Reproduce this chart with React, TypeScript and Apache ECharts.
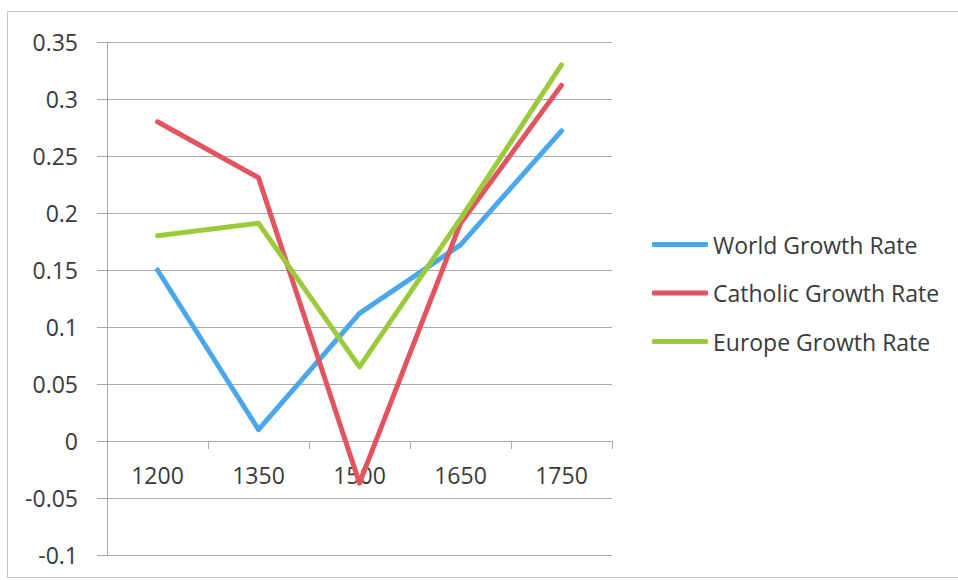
import React, { useEffect, useRef } from "react";
import * as echarts from "echarts";

const categories = ["1200", "1350", "1500", "1650", "1750"];
const worldGrowth = [0.15, 0.01, 0.112, 0.172, 0.272];
const catholicGrowth = [0.28, 0.231, -0.037, 0.191, 0.312];
const europeGrowth = [0.18, 0.191, 0.065, 0.195, 0.33];
const seriesNames = ["World Growth Rate", "Catholic Growth Rate", "Europe Growth Rate"];
const colors = ["#4BA7EC", "#E0555F", "#9BCB3D"];

const FONT = "'Open Sans', 'Liberation Sans', sans-serif";
const TEXT = "#3a3a3a";
const GRID = "#a9a9a9";

const Y_MIN = -0.1;
const Y_MAX = 0.35;
const GRID_TOP = 42;
const GRID_BOTTOM = 25;
const HEIGHT = 580;

export default function App() {
  const ref = useRef<HTMLDivElement>(null);
  useEffect(() => {
    if (!ref.current) return;
    const chart = echarts.init(ref.current, undefined, { renderer: "svg" });
    const data = [worldGrowth, catholicGrowth, europeGrowth];
    const plotH = HEIGHT - GRID_TOP - GRID_BOTTOM;
    const zeroY = GRID_TOP + (Y_MAX / (Y_MAX - Y_MIN)) * plotH;
    const xOffset = zeroY - (HEIGHT - GRID_BOTTOM);
    chart.setOption({
      animation: false,
      backgroundColor: "#ffffff",
      textStyle: { fontFamily: FONT },
      graphic: [
        {
          type: "rect",
          shape: { x: 7.5, y: 11.5, width: 960, height: 566 },
          style: { fill: "none", stroke: "#c4c4c4", lineWidth: 1 },
          silent: true,
        },
      ],
      grid: {
        left: 107,
        right: 346,
        top: GRID_TOP,
        bottom: GRID_BOTTOM,
        containLabel: false,
        outerBoundsMode: "none",
      },
      legend: {
        orient: "vertical",
        left: 652,
        top: 233,
        padding: 0,
        itemWidth: 56,
        itemHeight: 5,
        itemGap: 25.5,
        icon: "roundRect",
        textStyle: { fontSize: 23, color: TEXT, fontFamily: FONT, lineHeight: 23 },
        data: seriesNames,
      },
      xAxis: {
        type: "category",
        data: categories,
        boundaryGap: true,
        position: "bottom",
        offset: xOffset,
        axisLine: { onZero: false, lineStyle: { color: GRID, width: 1 } },
        axisTick: { show: true, length: 8, lineStyle: { color: GRID } },
        axisLabel: { fontSize: 23, color: TEXT, margin: 22, fontFamily: FONT },
        splitLine: { show: false },
      },
      yAxis: {
        type: "value",
        min: Y_MIN,
        max: Y_MAX,
        interval: 0.05,
        axisLine: { show: true, lineStyle: { color: GRID, width: 1 } },
        axisTick: { show: true, length: 10, lineStyle: { color: GRID } },
        axisLabel: { fontSize: 23, color: TEXT, margin: 29, fontFamily: FONT },
        splitLine: { show: true, lineStyle: { color: GRID, width: 1 } },
      },
      series: seriesNames.map((name, i) => ({
        name,
        type: "line",
        data: data[i],
        symbol: "none",
        lineStyle: { width: 5, color: colors[i], cap: "round", join: "round" },
        itemStyle: { color: colors[i] },
      })),
    });
    return () => chart.dispose();
  }, []);
  return (
    <div
      ref={ref}
      style={{ position: "fixed", left: 0, top: 0, width: 958, height: 580, background: "#fff" }}
    />
  );
}
